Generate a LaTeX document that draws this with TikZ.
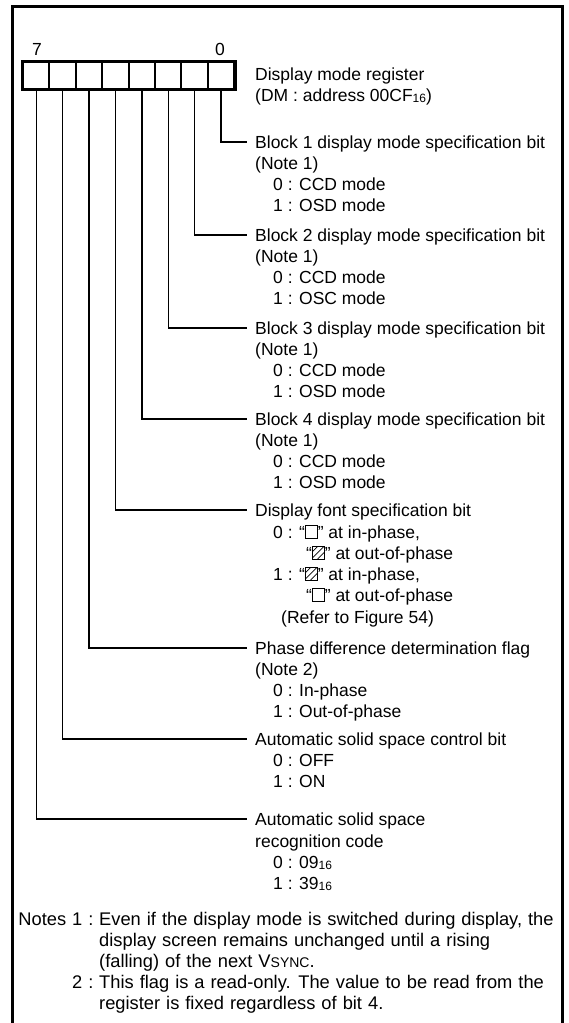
\documentclass[tikz,border=0pt]{standalone}
\usepackage{fontspec}
\setmainfont{Liberation Sans}
\newcommand{\emptysq}{\tikz[baseline=0pt]\draw[line width=0.9pt] (0pt,0pt) rectangle (0.68em,0.72em);}
\newcommand{\hatchsq}{\tikz[baseline=0pt]{\draw[line width=0.9pt] (0pt,0pt) rectangle (0.68em,0.72em); \clip (0pt,0pt) rectangle (0.68em,0.72em); \foreach \t in {-0.42,-0.06,0.3} \draw[line width=0.7pt] (\t em,0pt) -- ++(0.8em,0.8em);}}
\newcommand{\hexsub}[1]{\raisebox{-0.15ex}{\fontsize{12}{12}\selectfont #1}}
\newcommand{\vsyncsc}{V{\fontsize{14}{14}\selectfont SYNC}}
\newcommand{\notefont}{\fontsize{18.3}{21}\selectfont\spaceskip=6.0pt\relax}
\begin{document}
\begin{tikzpicture}[x=1pt,y=-1pt,
  font=\fontsize{17.5}{21}\selectfont,
  lbl/.style={anchor=base west, inner sep=0pt},
  note/.style={anchor=base west, inner sep=0pt, font=\notefont},
  ttl/.style={anchor=west, inner sep=0pt, text height=12.5pt, text depth=0pt},
  cell/.style={draw, line width=2pt, minimum width=26.4pt, minimum height=27pt, inner sep=0pt},
  conn/.style={line width=1.4pt},
  frame/.style={line width=3pt}]
\useasboundingbox (0,0) rectangle (569,1023);
% frame
\draw[frame] (12,1023) -- (12,6) -- (562,6) -- (562,1023);
% register cells
\foreach \i in {0,...,7} \node[cell] (b\i) at ({36.2+26.4*(7-\i)}, 75.5) {};
\draw[line width=2.6pt] (b7.north west) rectangle (b0.south east);
\node[anchor=base, inner sep=0pt] (n7) at (37,55) {7};
\node[anchor=base, inner sep=0pt] (n0) at (220,55) {0};
\node[lbl] (reg1) at (255,80) {Display mode register};
\node[lbl] (reg2) at (255,101) {(DM : address 00CF\hexsub{16})};
% titles
\node[ttl] (t0) at (255,142) {Block 1 display mode specification bit};
\node[ttl] (t1) at (255,235) {Block 2 display mode specification bit};
\node[ttl] (t2) at (255,328) {Block 3 display mode specification bit};
\node[ttl] (t3) at (255,419) {Block 4 display mode specification bit};
\node[ttl] (t4) at (255,510) {Display font specification bit};
\node[ttl] (t5) at (255,648) {Phase difference determination flag};
\node[ttl] (t6) at (255,739) {Automatic solid space control bit};
\node[ttl] (t7) at (255,819) {Automatic solid space};
% block 1
\node[lbl] (a1) at (255,169) {(Note 1)};
\node[lbl] (a2) at (273,190) {0 : CCD mode};
\node[lbl] (a3) at (273,211) {1 : OSD mode};
% block 2
\node[lbl] (c1) at (255,262) {(Note 1)};
\node[lbl] (c2) at (273,283) {0 : CCD mode};
\node[lbl] (c3) at (273,304) {1 : OSC mode};
% block 3
\node[lbl] (d1) at (255,355) {(Note 1)};
\node[lbl] (d2) at (273,376) {0 : CCD mode};
\node[lbl] (d3) at (273,397) {1 : OSD mode};
% block 4
\node[lbl] (e1) at (255,446) {(Note 1)};
\node[lbl] (e2) at (273,467) {0 : CCD mode};
\node[lbl] (e3) at (273,488) {1 : OSD mode};
% display font
\node[lbl] (f1) at (273,538) {0 : “\emptysq” at in-phase,};
\node[lbl] (f2) at (306,559) {“\hatchsq” at out-of-phase};
\node[lbl] (f3) at (273,580) {1 : “\hatchsq” at in-phase,};
\node[lbl] (f4) at (306,601) {“\emptysq” at out-of-phase};
\node[lbl] (f5) at (281,623) {(Refer to Figure 54)};
% phase
\node[lbl] (g1) at (255,675) {(Note 2)};
\node[lbl] (g2) at (273,696) {0 : In-phase};
\node[lbl] (g3) at (273,717) {1 : Out-of-phase};
% auto ctrl
\node[lbl] (h1) at (273,766) {0 : OFF};
\node[lbl] (h2) at (273,787) {1 : ON};
% auto recog
\node[lbl] (k1) at (255,847) {recognition code};
\node[lbl] (k2) at (273,868) {0 : 09\hexsub{16}};
\node[lbl] (k3) at (273,889) {1 : 39\hexsub{16}};
% notes
\node[note] (m4) at (72,988) {2 :};
\node[note, anchor=base east] (m0) at (m4.base east |- 0,925) {Notes 1 :};
\node[note] (m1) at (99,925) {Even if the display mode is switched during display, the};
\node[note] (m2) at (99,946) {display screen remains unchanged until a rising};
\node[note] (m3) at (99,967) {(falling) of the next \vsyncsc.};
\node[note] (m5) at (99,988) {This flag is a read-only. The value to be read from the};
\node[note] (m6) at (99,1009) {register is fixed regardless of bit 4.};
% connectors
\foreach \i in {0,...,7} \draw[conn] (b\i.south) |- ([xshift=-8pt]t\i.west);
\end{tikzpicture}
\end{document}
